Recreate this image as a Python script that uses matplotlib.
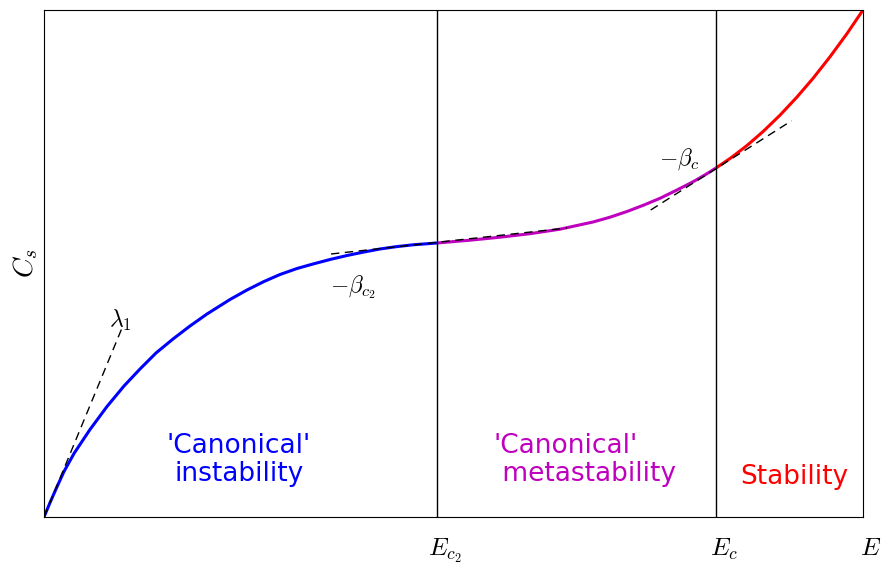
import matplotlib
matplotlib.use("Agg")
import matplotlib.pyplot as plt
import matplotlib.transforms as mtransforms
import numpy as np

plt.rcParams['mathtext.fontset'] = 'cm'

# curve, arbitrary units (E: 0..819, C_s: 0..507)
energy = [0, 6, 12, 20, 30, 46, 63, 80, 96, 112, 129, 146, 163, 186, 203,
          220, 236, 253, 269, 286, 303, 320, 336, 352, 369, 393,
          426, 456, 486, 516, 549, 566, 583, 600, 616, 632, 649, 661, 672,
          687, 703, 719, 736, 753, 769, 786, 803, 819]
cs = [0, 14.3, 28, 45.5, 63.5, 87.5, 110.5, 131, 148, 164, 178, 191, 203, 217.5, 227,
      235.5, 242.5, 248.5, 253, 257.5, 261.5, 265, 268, 270.3, 272.2, 274,
      276.8, 279.8, 283.3, 287.8, 295, 299.8, 305.5, 312, 318.7, 326.5, 335.2,
      342.1, 349,
      359.2, 371.5, 385.4, 401.8, 420, 438.6, 460.2, 483.4, 507]

e_c2 = 393
e_c = 672

# dashed tangents: (x0, x1), (y0, y1)
tan_lambda = ([0, 78], [0, 189])
tan_beta_c2 = ([287, 523], [263, 289])
tan_beta_c = ([606.7, 747.7], [307, 396.3])


def main():
    fig = plt.figure(figsize=(8.83, 5.63), dpi=100)
    ax = fig.add_axes([44 / 883, 46 / 563, 819 / 883, 507 / 563])

    e = np.array(energy)
    c = np.array(cs)
    parts = [(e <= e_c2, 'b'), ((e >= e_c2) & (e <= e_c), 'm'), (e >= e_c, 'r')]
    for mask, col in parts:
        ax.plot(e[mask], c[mask], color=col, lw=2.2,
                solid_joinstyle='round', solid_capstyle='butt')

    for xs, ys in (tan_lambda, tan_beta_c2, tan_beta_c):
        ax.plot(xs, ys, color='k', lw=1, linestyle=(0, (6, 4)))

    ax.axvline(e_c2, color='k', lw=1)
    ax.axvline(e_c, color='k', lw=1)

    ax.text(65, 190, r'$\lambda_1$', fontsize=17)
    ax.text(286, 225, r'$-\beta_{c_2}$', fontsize=17)
    ax.text(615, 352, r'$-\beta_c$', fontsize=17)

    ax.text(195, 57, "'Canonical'\ninstability", color='b', fontsize=19,
            ha='center', va='center', linespacing=1.1)
    ax.text(450, 57, "'Canonical'\n metastability", color='m', fontsize=19,
            ha='left', va='center', linespacing=1.1)
    ax.text(750, 40, "Stability", color='r', fontsize=19,
            ha='center', va='center')

    ax.set_xlim(0, 819)
    ax.set_ylim(0, 507)
    ax.set_xticks([e_c2, e_c, 819])
    ax.set_xticklabels([r'$E_{c_2}$', r'$E_c$', r'$E$'], fontsize=18)
    ax.set_yticks([])
    ax.tick_params(axis='x', length=0, pad=14)
    offset = mtransforms.ScaledTranslation(8 / 100, 0, fig.dpi_scale_trans)
    for lab in ax.get_xticklabels():
        lab.set_transform(lab.get_transform() + offset)
    ax.set_ylabel(r'$C_s$', fontsize=20, labelpad=3)

    fig.savefig('out.png', dpi=100)


if __name__ == '__main__':
    main()
